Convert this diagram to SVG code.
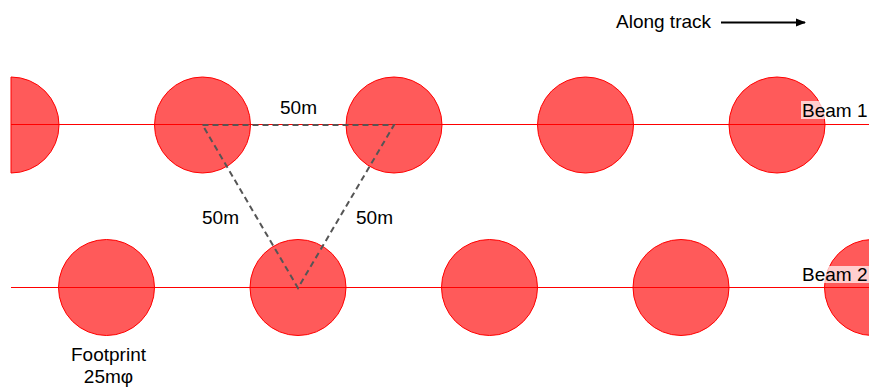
<svg xmlns="http://www.w3.org/2000/svg" width="869" height="387" viewBox="0 0 869 387">
  <defs>
    <style>
      .fp { fill: #ff5a5a; stroke: #ff0000; stroke-width: 1; }
      .beam { stroke: #ff0000; stroke-width: 1; fill: none; }
      .tri { stroke: #555555; stroke-width: 2; stroke-dasharray: 6 4; fill: none; }
      .lbl { font-family: "Liberation Sans", Arial, sans-serif; font-size: 19px; fill: #000000; }
      .hl { fill: #ffffff; fill-opacity: 0.7; }
    </style>
    <marker id="arrow" viewBox="0 0 10 10" refX="9" refY="5" markerWidth="5" markerHeight="5" orient="auto" markerUnits="strokeWidth">
      <path d="M0,1 L10,5 L0,9 Z" fill="#000000"/>
    </marker>
  </defs>
  <rect width="869" height="387" fill="#ffffff"/>

  <g id="beam1-footprints">
    <g id="b1-fp0"><path class="fp" d="M11,77 A48,48 0 0 1 11,173 Z"/></g>
    <g id="b1-fp1"><circle class="fp" cx="202.5" cy="125" r="48"/></g>
    <g id="b1-fp2"><circle class="fp" cx="394" cy="125" r="48"/></g>
    <g id="b1-fp3"><circle class="fp" cx="585.5" cy="125" r="48"/></g>
    <g id="b1-fp4"><circle class="fp" cx="777" cy="125" r="48"/></g>
  </g>
  <g id="beam2-footprints">
    <g id="b2-fp0"><circle class="fp" cx="106.5" cy="287.5" r="48"/></g>
    <g id="b2-fp1"><circle class="fp" cx="298" cy="287.5" r="48"/></g>
    <g id="b2-fp2"><circle class="fp" cx="489.5" cy="287.5" r="48"/></g>
    <g id="b2-fp3"><circle class="fp" cx="681" cy="287.5" r="48"/></g>
    <g id="b2-fp4"><circle class="fp" cx="872.5" cy="287.5" r="48"/></g>
  </g>

  <g id="connectors">
    <line class="beam" x1="11" y1="124.5" x2="869" y2="124.5"/>
    <line class="beam" x1="11" y1="287.5" x2="869" y2="287.5"/>
    <path class="tri" d="M202.5,125 L394,125 L298,288 Z"/>
    <line x1="721" y1="22.5" x2="805" y2="22.5" stroke="#000000" stroke-width="2" marker-end="url(#arrow)"/>
  </g>

  <g id="label-beam1">
    <rect class="hl" x="801" y="101" width="68" height="18"/>
    <text class="lbl" x="802" y="116.5">Beam 1</text>
  </g>
  <g id="label-beam2">
    <rect class="hl" x="801" y="266" width="68" height="17"/>
    <text class="lbl" x="802" y="280.5">Beam 2</text>
  </g>
  <g id="label-along">
    <text class="lbl" x="616" y="27.5">Along track</text>
  </g>
  <g id="label-dist">
    <text class="lbl" x="280" y="113.5">50m</text>
    <text class="lbl" x="202" y="223.5">50m</text>
    <text class="lbl" x="356" y="223.5">50m</text>
  </g>
  <g id="label-footprint">
    <text class="lbl" x="108.5" y="361" text-anchor="middle">Footprint</text>
    <text class="lbl" x="108.5" y="383" text-anchor="middle">25mφ</text>
  </g>
</svg>
